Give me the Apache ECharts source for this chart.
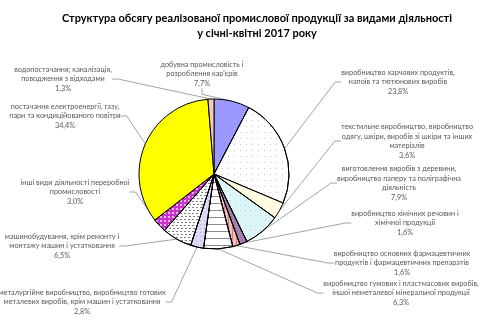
<!DOCTYPE html>
<html><head><meta charset="utf-8">
<script src="https://cdn.jsdelivr.net/npm/echarts@6/dist/echarts.min.js"></script>
<style>html,body{margin:0;padding:0;background:#fff}#c{width:480px;height:324px}</style>
</head><body><div id="c"></div>
<script>
var titleLines = ['Структура обсягу реалізованої промислової продукції за видами діяльності', 'у січні-квітні 2017 року'];
var categories = [
  "добувна промисловість і\nрозроблення кар'єрів",
  "виробництво харчових продуктів,\nнапоїв та тютюнових виробів",
  "текстильне виробництво, виробництво\nодягу, шкіри, виробів зі шкіри та інших\nматеріалів",
  "виготовлення виробів з деревини,\nвиробництво паперу та поліграфічна\nдіяльність",
  "виробництво хімічних речовин і\nхімічної продукції",
  "виробництво основних фармацевтичних\nпродуктів і фармацевтичних препаратів",
  "виробництво гумових і пластмасових виробів,\nіншої неметалевої мінеральної продукції",
  "металургійне виробництво, виробництво готових\nметалевих виробів, крім машин і устатковання",
  "машинобудування, крім ремонту і\nмонтажу машин і устатковання",
  "інші види діяльності переробної\nпромисловості",
  "постачання електроенергії, газу,\nпари та кондиційованого повітря",
  "водопостачання; каналізація,\nповодження з відходами"
];
var shares = [7.7, 23.8, 3.6, 7.9, 1.6, 1.6, 6.3, 2.8, 6.5, 3.0, 34.4, 1.3];

// styling (not data)
var sliceColors = ['#9999ff', '#ffffff', '#fffbe3', '#dcf6f8', '#a584b4', '#f3bcbc', '#ffffff', '#dcdcf8', '#ffffff', '#cc33cc', '#ffff00', '#f2cdb6'];
var sliceDecals = [
  null,
  {symbol:'rect', symbolSize:1, dashArrayX:[1,5], dashArrayY:[1,5], color:'rgba(0,0,0,0.22)'},
  null,
  {symbol:'rect', symbolSize:1, dashArrayX:[1,4], dashArrayY:[1,4], color:'rgba(0,0,0,0.1)'},
  {symbol:'rect', symbolSize:1, dashArrayX:[1,2], dashArrayY:[1,2], color:'rgba(0,0,0,0.15)'},
  {symbol:'rect', symbolSize:1, dashArrayX:[1,3], dashArrayY:[1,0], color:'rgba(160,60,60,0.45)'},
  {symbol:'rect', symbolSize:1, dashArrayX:[10,0], dashArrayY:[1,6], color:'rgba(0,0,0,0.45)'},
  {symbol:'rect', symbolSize:1, dashArrayX:[1,3], dashArrayY:[1,3], color:'rgba(0,0,0,0.2)'},
  {symbol:'rect', symbolSize:1, dashArrayX:[[2,2],[0,1,2,1]], dashArrayY:[1,2], color:'rgba(0,0,0,0.5)'},
  {symbol:'rect', symbolSize:1, dashArrayX:[2,2], dashArrayY:[2,2], color:'rgba(255,255,255,0.65)'},
  null,
  null
];
var labelPos = [[202,74],[398,82],[407,141],[399,183],[405,223],[402,263],[401,293],[82,302],[62,246],[75,192],[65,116],[63,79]];

function fmt(v){ return v.toFixed(1).replace('.', ',') + '%'; }

var data = categories.map(function(n, i){
  var d = {name: n, value: shares[i], itemStyle: {color: sliceColors[i]}};
  if (sliceDecals[i]) d.itemStyle.decal = sliceDecals[i];
  return d;
});

var chart = echarts.init(document.getElementById('c'), null, {renderer:'canvas'});
chart.setOption({
  animation: false,
  backgroundColor: '#fff',
  title: {
    text: titleLines.join('\n'),
    left: 252, top: 6, textAlign: 'center',
    textStyle: {fontFamily: 'Lato', fontWeight: 'bold', fontSize: 11, color: '#000', lineHeight: 15}
  },
  series: [{
    type: 'pie',
    center: [214, 174],
    radius: 75,
    startAngle: 90,
    clockwise: true,
    avoidLabelOverlap: false,
    data: data,
    itemStyle: {borderColor: '#000', borderWidth: 1},
    emphasis: {disabled: true},
    label: {
      show: true,
      position: 'outside',
      formatter: function(p){ return p.name + '\n' + fmt(p.value); },
      fontFamily: 'Lato', fontSize: 7.3, color: '#595959', lineHeight: 9.5, align: 'center'
    },
    labelLine: {show: true, length: 6, length2: 6, lineStyle: {color: '#8c8c8c', width: 0.8}},
    labelLayout: function(p){
      var pos = labelPos[p.dataIndex];
      return {x: pos[0], y: pos[1], align: 'center', verticalAlign: 'middle'};
    }
  }]
});
</script></body></html>
